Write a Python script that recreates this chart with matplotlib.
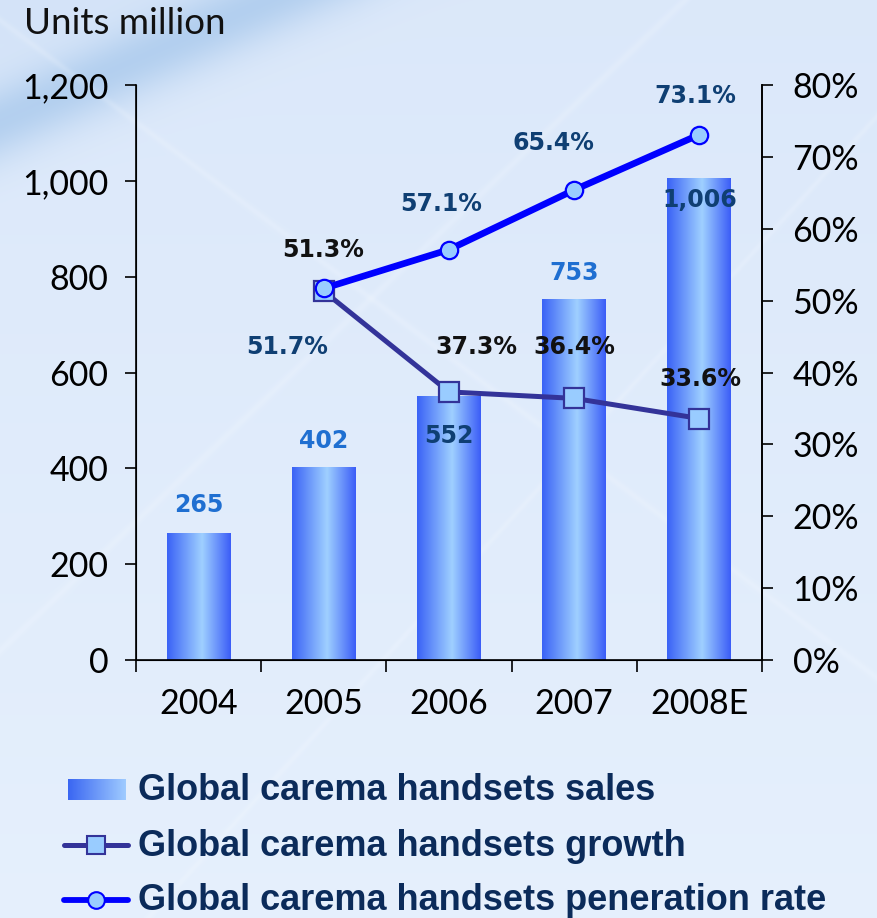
import numpy as np
import matplotlib.pyplot as plt
from matplotlib.colors import LinearSegmentedColormap

years = ['2004', '2005', '2006', '2007', '2008E']
sales = [265, 402, 552, 753, 1006]
sales_text = ['265', '402', '552', '753', '1,006']
# growth and penetration start in 2005
growth = [51.3, 37.3, 36.4, 33.6]
penetration = [51.7, 57.1, 65.4, 73.1]

W, H = 878, 918
plt.rcParams['font.family'] = ['Lato', 'DejaVu Sans']

fig = plt.figure(figsize=(W / 100, H / 100), dpi=100)

# ---- background panel in pixel coordinates ----
bg = fig.add_axes([0, 0, 1, 1], zorder=0)
yy, xx = np.mgrid[0:H, 0:W].astype(float)
t = (yy / H)[..., None]
img = np.array([0.86, 0.91, 0.98]) * (1 - t) + np.array([0.90, 0.94, 0.99]) * t
# darker swoosh across the top-left corner
d = yy + 0.45 * xx - 150
band = np.exp(-((d + 30) / 40) ** 2) * np.clip((560 - xx) / 200, 0, 1)
corner = np.clip(-d / 120, 0, 1) * (1 - band)
img = img * (1 - 0.6 * band[..., None]) + np.array([0.60, 0.75, 0.91]) * 0.6 * band[..., None]
img = img * (1 - 0.35 * corner[..., None]) + np.array([0.78, 0.86, 0.96]) * 0.35 * corner[..., None]
# faint light streaks
for a, b, w in [(0.95, 650, 5), (-0.75, 20, 4), (1.1, 1080, 4)]:
    s = np.exp(-((yy + a * xx - b) / w) ** 2)
    img = img * (1 - 0.15 * s[..., None]) + 0.15 * s[..., None]
bg.imshow(np.clip(img, 0, 1), extent=(0, W, H, 0), aspect='auto')
bg.set_xlim(0, W)
bg.set_ylim(H, 0)
bg.axis('off')

# ---- main chart ----
ax = fig.add_axes([136 / W, 1 - 660 / H, (762 - 136) / W, (660 - 85) / H], zorder=1)
ax.patch.set_alpha(0)
x = np.arange(len(years))

bar_cmap = LinearSegmentedColormap.from_list(
    'bar', [(0, '#3a62f6'), (0.55, '#9fd0ff'), (1, '#3b5df7')])
bars = ax.bar(x, sales, width=0.51, color='none', edgecolor='none', zorder=2)
grad = np.linspace(0, 1, 256)[None, :]
for b in bars:
    im = ax.imshow(grad, cmap=bar_cmap, aspect='auto', zorder=2,
                   extent=(b.get_x(), b.get_x() + b.get_width(), 0, b.get_height()))
    im.set_clip_path(b)

ax.set_xlim(-0.5, len(years) - 0.5)
ax.set_ylim(0, 1200)
ax.set_yticks(range(0, 1201, 200))
ax.set_yticklabels([f'{v:,}' for v in range(0, 1201, 200)])
ax.set_xticks(x)
ax.set_xticklabels(years)
ax.set_xticks(np.arange(-0.5, len(years), 1), minor=True)
ax.tick_params(axis='x', which='major', length=0, pad=20, labelsize=24.5)
ax.tick_params(axis='x', which='minor', length=8.5, width=1.2, direction='out')
ax.tick_params(axis='y', length=8, width=1.2, pad=12, labelsize=24.5)
for side in ['left', 'bottom', 'right']:
    ax.spines[side].set_linewidth(1.2)
ax.spines['top'].set_visible(False)

bar_off = [20, 19, -29, 19, -16]
bar_col = ['#1f6fd1', '#1f6fd1', '#0f3f73', '#1f6fd1', '#0f3f73']
for i, v in enumerate(sales):
    ax.annotate(sales_text[i], xy=(i, v), xytext=(0, bar_off[i]),
                textcoords='offset points', ha='center', va='center',
                fontsize=17, fontweight='bold', family='DejaVu Sans',
                color=bar_col[i], zorder=3)

# ---- right axis: percentages ----
ax2 = ax.twinx()
ax2.set_zorder(2)
ax2.set_ylim(0, 80)
ax2.set_yticks(range(0, 81, 10))
ax2.set_yticklabels([f'{v}%' for v in range(0, 81, 10)])
ax2.tick_params(axis='y', length=8, width=1.2, pad=14, labelsize=24.5)
ax2.spines['right'].set_linewidth(1.2)
ax2.spines['top'].set_visible(False)

xl = x[1:]
ax2.plot(xl, growth, color='#333399', lw=3.6, marker='s', ms=14,
         mfc='#99ccff', mec='#333399', mew=1.6, zorder=3)
ax2.plot(xl, penetration, color='#0000ff', lw=4.8, marker='o', ms=12.5,
         mfc='#99ccff', mec='#0000ff', mew=1.6, zorder=4)

grow_off = [(-0.7, 30), (19.4, 32.4), (0, 36.7), (0.7, 28.8)]
pen_off = [(-26.6, -42.5), (-5.8, 33), (-15, 34), (-3, 28)]
for i, v in enumerate(growth):
    ax2.annotate(f'{v}%', xy=(xl[i], v), xytext=grow_off[i],
                 textcoords='offset points', ha='center', va='center',
                 fontsize=17, fontweight='bold', family='DejaVu Sans',
                 color='#111111', zorder=5)
for i, v in enumerate(penetration):
    ax2.annotate(f'{v}%', xy=(xl[i], v), xytext=pen_off[i],
                 textcoords='offset points', ha='center', va='center',
                 fontsize=17, fontweight='bold', family='DejaVu Sans',
                 color='#0f3f73', zorder=5)

# ---- axis title and legend, drawn on the background panel ----
bg.text(24, 24, 'Units million', fontsize=26.5, va='center', ha='left', color='#111111')

leg_cmap = LinearSegmentedColormap.from_list('leg', ['#3a66f2', '#9fcbff'])
bg.imshow(grad, cmap=leg_cmap, aspect='auto', extent=(68, 126, 800, 779), zorder=2)
bg.plot([64, 128], [845, 845], color='#333399', lw=3.6, solid_capstyle='round', zorder=2)
bg.plot([96], [845], marker='s', ms=13, mfc='#99ccff', mec='#333399', mew=1.5, zorder=3)
bg.plot([64, 128], [900, 900], color='#0000ff', lw=4.2, solid_capstyle='round', zorder=2)
bg.plot([96], [900], marker='o', ms=12, mfc='#99ccff', mec='#0000ff', mew=1.5, zorder=3)
bg.set_xlim(0, W)
bg.set_ylim(H, 0)

legend_text = ['Global carema handsets sales',
               'Global carema handsets growth',
               'Global carema handsets peneration rate']
for yy_txt, s in zip([791, 846, 901], legend_text):
    bg.text(138, yy_txt, s, fontsize=26, fontweight='bold', family='Liberation Sans',
            color='#0b2b5a', va='center', ha='left')

fig.savefig('out.png', dpi=100)
